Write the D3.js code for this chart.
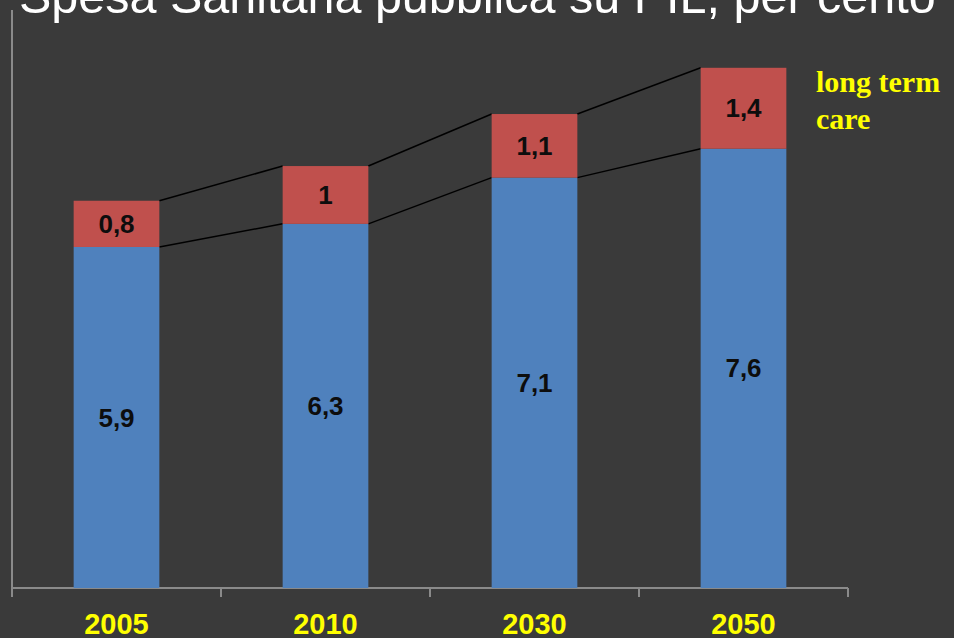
<!DOCTYPE html>
<html>
<head>
<meta charset="utf-8">
<script src="https://cdn.jsdelivr.net/npm/d3@7"></script>
<style>
  body { margin: 0; background: #3a3a3a; }
  svg { display: block; }
</style>
</head>
<body>
<script>
const years = ["2005", "2010", "2030", "2050"];
const sanitaria = [5.9, 6.3, 7.1, 7.6];
const longTerm = [0.8, 1, 1.1, 1.4];

const w = 954;
const h = 638;

const svg = d3.select("body")
  .append("svg")
    .attr("width", w)
    .attr("height", h)
    .style("background", "#3a3a3a");

const xScale = d3.scaleBand()
    .domain(years)
    .range([12, 848])
    .paddingInner(0.59)
    .paddingOuter(0.295);

const yScale = d3.scaleLinear()
    .domain([0, 10])
    .range([588, 10]);

// title, cut at the top like in the slide
svg.append("text")
  .attr("x", 19)
  .attr("y", 13)
  .attr("font-family", "Liberation Sans, Arial, sans-serif")
  .attr("font-size", 48.5)
  .attr("fill", "#ffffff")
  .text("Spesa Sanitaria pubblica su PIL, per cento");

// y axis, just the line
svg.append("line")
  .attr("x1", 12).attr("x2", 12)
  .attr("y1", yScale(10)).attr("y2", yScale(0))
  .attr("stroke", "#8a8a8a")
  .attr("stroke-width", 2);

// x axis with ticks between categories
const bounds = d3.range(years.length + 1).map(i => 12 + i * (848 - 12) / years.length);
const xAxis = svg.append("g");
xAxis.append("line")
  .attr("x1", 12).attr("x2", 848)
  .attr("y1", 588).attr("y2", 588)
  .attr("stroke", "#8a8a8a")
  .attr("stroke-width", 2);
xAxis.selectAll("line.tick")
  .data(bounds)
  .enter()
  .append("line")
    .attr("class", "tick")
    .attr("x1", d => d).attr("x2", d => d)
    .attr("y1", 588).attr("y2", 597)
    .attr("stroke", "#8a8a8a")
    .attr("stroke-width", 2);

xAxis.selectAll("text")
  .data(years)
  .enter()
  .append("text")
    .attr("x", d => xScale(d) + xScale.bandwidth() / 2)
    .attr("y", 634)
    .attr("text-anchor", "middle")
    .attr("font-family", "Liberation Sans, Arial, sans-serif")
    .attr("font-weight", "bold")
    .attr("font-size", 29)
    .attr("fill", "#ffff00")
    .text(d => d);

const dataset = years.map((y, i) => ({ year: y, base: sanitaria[i], ltc: longTerm[i] }));

// connector lines between bars
for (let i = 0; i < dataset.length - 1; i++) {
  const a = dataset[i], b = dataset[i + 1];
  const x1 = xScale(a.year) + xScale.bandwidth();
  const x2 = xScale(b.year);
  svg.append("line")
    .attr("x1", x1).attr("y1", yScale(a.base))
    .attr("x2", x2).attr("y2", yScale(b.base))
    .attr("stroke", "#000").attr("stroke-width", 1.5);
  svg.append("line")
    .attr("x1", x1).attr("y1", yScale(a.base + a.ltc))
    .attr("x2", x2).attr("y2", yScale(b.base + b.ltc))
    .attr("stroke", "#000").attr("stroke-width", 1.5);
}

svg.selectAll("rect.base")
  .data(dataset)
  .enter()
  .append("rect")
    .attr("class", "base")
    .attr("x", d => xScale(d.year))
    .attr("y", d => yScale(d.base))
    .attr("width", xScale.bandwidth())
    .attr("height", d => yScale(0) - yScale(d.base))
    .style("fill", "#4f81bd");

svg.selectAll("rect.ltc")
  .data(dataset)
  .enter()
  .append("rect")
    .attr("class", "ltc")
    .attr("x", d => xScale(d.year))
    .attr("y", d => yScale(d.base + d.ltc))
    .attr("width", xScale.bandwidth())
    .attr("height", d => yScale(d.base) - yScale(d.base + d.ltc))
    .style("fill", "#c0504d");

const fmt = v => String(v).replace(".", ",");

svg.selectAll("text.lbase")
  .data(dataset)
  .enter()
  .append("text")
    .attr("class", "lbase")
    .attr("x", d => xScale(d.year) + xScale.bandwidth() / 2)
    .attr("y", d => (yScale(0) + yScale(d.base)) / 2)
    .attr("dy", "0.35em")
    .attr("text-anchor", "middle")
    .attr("font-family", "Liberation Sans, Arial, sans-serif")
    .attr("font-weight", "bold")
    .attr("font-size", 26)
    .attr("fill", "#0d0d0d")
    .text(d => fmt(d.base));

svg.selectAll("text.lltc")
  .data(dataset)
  .enter()
  .append("text")
    .attr("class", "lltc")
    .attr("x", d => xScale(d.year) + xScale.bandwidth() / 2)
    .attr("y", d => (yScale(d.base) + yScale(d.base + d.ltc)) / 2)
    .attr("dy", "0.35em")
    .attr("text-anchor", "middle")
    .attr("font-family", "Liberation Sans, Arial, sans-serif")
    .attr("font-weight", "bold")
    .attr("font-size", 26)
    .attr("fill", "#0d0d0d")
    .text(d => fmt(d.ltc));

// legend text for the red part
const legend = svg.append("text")
  .attr("x", 816)
  .attr("y", 92)
  .attr("font-family", "Liberation Serif, Times New Roman, serif")
  .attr("font-weight", "bold")
  .attr("font-size", 30)
  .attr("fill", "#ffff00");
legend.append("tspan").attr("x", 816).text("long term");
legend.append("tspan").attr("x", 816).attr("dy", 37).text("care");
</script>
</body>
</html>
